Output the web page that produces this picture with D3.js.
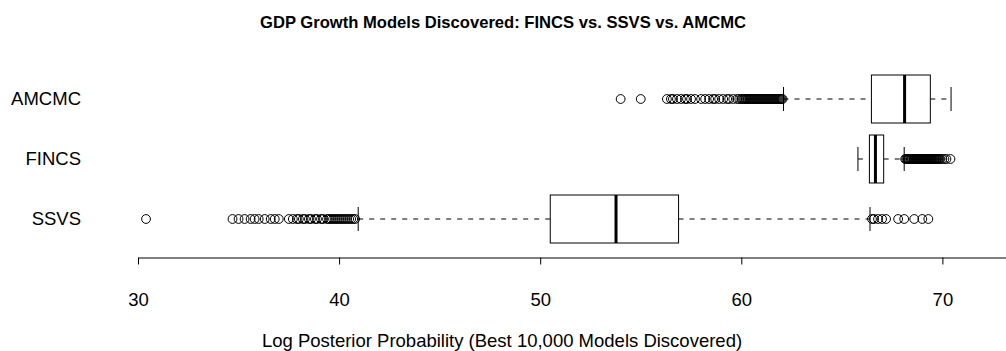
<!DOCTYPE html>
<html>
<head>
<meta charset="utf-8">
<script src="https://cdn.jsdelivr.net/npm/d3@7"></script>
<style>
  body { margin: 0; background: #fff; }
  svg { display: block; font-family: "Liberation Sans", Arial, sans-serif; }
</style>
</head>
<body>
<svg id="chart" width="1006" height="351"></svg>
<script>
// samplers, top to bottom
const methods = ["AMCMC", "FINCS", "SSVS"];

// five-number summaries: lower whisker, q1, median, q3, upper whisker
const whiskerLo = [62.1, 65.8, 40.95];
const q1 = [66.47, 66.37, 50.5];
const median = [68.12, 66.67, 53.77];
const q3 = [69.4, 67.08, 56.88];
const whiskerHi = [70.43, 68.1, 66.4];

// outliers
const outAMCMC = [54.0, 55.0, 56.3, 56.5, 56.6, 56.8, 57.0, 57.2, 57.3, 57.5, 57.7, 58.0,
  58.2, 58.4, 58.6, 58.7, 58.9, 59.1, 59.3, 59.4, 59.6, 59.8, 59.9, 60.0, 60.05, 60.1,
  60.15, 60.2, 60.25, 60.3, 60.35, 60.4, 60.45, 60.5, 60.55, 60.6, 60.65, 60.7, 60.75,
  60.8, 60.85, 60.9, 60.95, 61.0, 61.05, 61.1, 61.15, 61.2, 61.25, 61.3, 61.35, 61.4,
  61.45, 61.5, 61.55, 61.6, 61.65, 61.7, 61.75, 61.8, 61.85, 61.9, 61.95, 62.0, 62.05];
const outFINCS = [68.15, 68.2, 68.25, 68.28, 68.32, 68.35, 68.4, 68.43, 68.47, 68.5,
  68.55, 68.58, 68.62, 68.65, 68.7, 68.73, 68.77, 68.8, 68.85, 68.88, 68.92, 68.95, 69.0,
  69.03, 69.07, 69.1, 69.15, 69.18, 69.22, 69.25, 69.3, 69.33, 69.37, 69.4, 69.45, 69.48,
  69.52, 69.55, 69.6, 69.63, 69.67, 69.7, 69.75, 69.8, 69.85, 69.9, 70.0, 70.1, 70.2, 70.4];
const outSSVS = [30.4, 34.7, 35.0, 35.3, 35.6, 35.8, 36.0, 36.3, 36.6, 36.8, 37.0,
  37.5, 37.7, 37.9, 38.0, 38.2, 38.3, 38.5, 38.6, 38.8, 38.9, 39.1, 39.2, 39.4, 39.5,
  39.6, 39.7, 39.8, 39.9, 40.0, 40.1, 40.2, 40.3, 40.4, 40.5, 40.6, 40.7, 40.8,
  66.5, 66.6, 66.8, 67.0, 67.2, 67.8, 68.1, 68.6, 69.0, 69.3];
const outliers = [outAMCMC, outFINCS, outSSVS];

const xTicks = [30, 40, 50, 60, 70];

const svg = d3.select("#chart");

const x = d3.scaleLinear().domain([30, 80]).range([138, 1143.5]);
const y = d3.scalePoint().domain(methods).range([99, 219]);
const boxH = y.step() * 0.8;

const rows = methods.map((m, i) => ({
    name: m, lo: whiskerLo[i], q1: q1[i], med: median[i], q3: q3[i], hi: whiskerHi[i],
    out: outliers[i]
}));

// title
svg.append("text")
    .attr("x", 503)
    .attr("y", 28)
    .attr("text-anchor", "middle")
    .attr("font-weight", "bold")
    .attr("font-size", 16.6)
    .text("GDP Growth Models Discovered: FINCS vs. SSVS vs. AMCMC");

const g = svg.append("g")
    .attr("fill", "none")
    .attr("stroke", "#000")
    .attr("stroke-width", 1);

const row = g.selectAll("g.row")
    .data(rows)
    .join("g")
    .attr("class", "row")
    .attr("transform", d => `translate(0,${y(d.name)})`);

// whiskers (dashed)
row.append("line")
    .attr("x1", d => x(d.lo)).attr("x2", d => x(d.q1))
    .attr("stroke-dasharray", "5,6");
row.append("line")
    .attr("x1", d => x(d.q3)).attr("x2", d => x(d.hi))
    .attr("stroke-dasharray", "5,6");

// staples
row.selectAll("line.cap")
    .data(d => [d.lo, d.hi])
    .join("line")
    .attr("class", "cap")
    .attr("x1", v => x(v)).attr("x2", v => x(v))
    .attr("y1", -boxH / 4).attr("y2", boxH / 4);

// outliers
row.selectAll("circle")
    .data(d => d.out)
    .join("circle")
    .attr("cx", v => x(v))
    .attr("r", 4.4);

// box
row.append("rect")
    .attr("x", d => x(d.q1))
    .attr("y", -boxH / 2)
    .attr("width", d => x(d.q3) - x(d.q1))
    .attr("height", boxH)
    .attr("fill", "#fff");

// median
row.append("line")
    .attr("x1", d => x(d.med)).attr("x2", d => x(d.med))
    .attr("y1", -boxH / 2).attr("y2", boxH / 2)
    .attr("stroke-width", 3);

// group names
svg.append("g")
    .attr("font-size", 18.5)
    .attr("text-anchor", "end")
    .selectAll("text")
    .data(methods)
    .join("text")
    .attr("x", 81)
    .attr("y", d => y(d))
    .attr("dy", "0.35em")
    .text(d => d);

// x axis
const axis = svg.append("g")
    .attr("transform", "translate(0,257.5)")
    .call(d3.axisBottom(x).tickValues(xTicks).tickSize(7).tickPadding(28).tickSizeOuter(0));
axis.select(".domain").attr("stroke", "#000");
axis.selectAll(".tick line").attr("stroke", "#000");
axis.selectAll(".tick text")
    .attr("font-size", 18.5)
    .attr("font-family", "Liberation Sans, Arial, sans-serif")
    .attr("fill", "#000");

svg.append("text")
    .attr("x", 502)
    .attr("y", 347)
    .attr("text-anchor", "middle")
    .attr("font-size", 18.5)
    .text("Log Posterior Probability (Best 10,000 Models Discovered)");
</script>
</body>
</html>
